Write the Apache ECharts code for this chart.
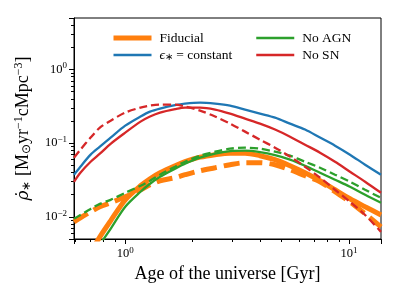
<!DOCTYPE html>
<html><head><meta charset="utf-8">
<script src="https://cdn.jsdelivr.net/npm/echarts@6/dist/echarts.min.js"></script>
<style>html,body{margin:0;padding:0;background:#fff}#c{width:399px;height:299px}</style>
</head><body><div id="c"></div>
<script>
// Age of the universe [Gyr]
const ages = [0.59, 0.63, 0.70, 0.77, 0.86, 1.0, 1.17, 1.29, 1.43, 1.67, 1.85, 2.16, 2.52, 2.94, 3.43, 4.0, 4.67, 5.45, 6.36, 7.42, 8.66, 10.1, 11.8, 13.9];
// SFRD [Msun / yr / cMpc^3]
const fiducial       = [0.0012, 0.0017, 0.00324, 0.00534, 0.00883, 0.0170, 0.0264, 0.0329, 0.0397, 0.0494, 0.056, 0.0645, 0.0698, 0.0731, 0.0731, 0.0676, 0.0597, 0.0494, 0.0397, 0.0309, 0.0233, 0.0176, 0.0137, 0.0106];
const fiducialDashed = [0.00855, 0.00969, 0.0117, 0.0137, 0.0155, 0.0187, 0.0233, 0.0272, 0.0309, 0.034, 0.0373, 0.0423, 0.0464, 0.051, 0.0543, 0.0543, 0.051, 0.0436, 0.0361, 0.030, 0.0219, 0.016, 0.011, 0.0073];
const constEff       = [0.0373, 0.0479, 0.0698, 0.0896, 0.119, 0.173, 0.230, 0.268, 0.295, 0.329, 0.345, 0.356, 0.345, 0.324, 0.286, 0.252, 0.222, 0.184, 0.153, 0.119, 0.0925, 0.0698, 0.051, 0.0373];
const noAGN          = [0.0009, 0.0013, 0.00244, 0.00416, 0.00687, 0.0137, 0.0219, 0.0281, 0.035, 0.045, 0.0526, 0.0635, 0.072, 0.0778, 0.079, 0.0755, 0.0687, 0.0597, 0.0494, 0.0397, 0.0319, 0.0256, 0.0199, 0.0155];
const noAGNDashed    = [0.0094, 0.0106, 0.0128, 0.015, 0.017, 0.0212, 0.0264, 0.0309, 0.0373, 0.0479, 0.056, 0.0676, 0.0766, 0.0842, 0.0868, 0.0842, 0.0766, 0.0676, 0.056, 0.0464, 0.0373, 0.030, 0.0233, 0.0181];
const noSN           = [0.0299, 0.0397, 0.056, 0.072, 0.098, 0.139, 0.196, 0.230, 0.260, 0.290, 0.304, 0.304, 0.286, 0.252, 0.215, 0.184, 0.153, 0.1225, 0.0954, 0.0743, 0.056, 0.041, 0.030, 0.0212];
const noSNDashed     = [0.0635, 0.0816, 0.119, 0.1625, 0.202, 0.260, 0.304, 0.324, 0.334, 0.334, 0.314, 0.277, 0.230, 0.184, 0.1434, 0.1116, 0.0868, 0.0656, 0.0479, 0.034, 0.0233, 0.016, 0.0106, 0.00625];
// tick label exponents (10^n)
const xTickExps = {'0': '0', '1': '1'};
const yTickExps = {'-2': '−2', '-1': '−1', '0': '0'};

const FONT = 'Liberation Serif';
const C = {orange: '#ff7f0e', blue: '#1f77b4', green: '#2ca02c', red: '#d62728'};
const pairs = arr => ages.map((a, i) => [a, arr[i]]);

function mk(name, data, color, width, dash, z) {
  return {
    name, type: 'line', data: pairs(data), symbol: 'none', smooth: 0.3,
    clip: true, z: z,
    lineStyle: {color, width, type: dash || 'solid', cap: 'butt'},
    itemStyle: {color}
  };
}
const NAME_CONST = 'eps_const';
const tickRich = {
  b: {fontFamily: FONT, fontSize: 12.5, color: '#000'},
  s: {fontFamily: FONT, fontSize: 9, color: '#000', padding: [0, 0, 7, 0]}
};
const fmt = exps => v => {
  const k = String(Math.round(Math.log10(v)));
  return exps[k] === undefined ? '' : '{b|10}{s|' + exps[k] + '}';
};
const axisCommon = {
  axisLine: {show: true, lineStyle: {color: '#000', width: 1}},
  axisTick: {show: true, inside: false, length: 5, lineStyle: {color: '#000'}},
  minorTick: {show: true, splitNumber: 9, length: 3, lineStyle: {color: '#000'}},
  splitLine: {show: false}, minorSplitLine: {show: false}
};
const legendRich = {
  t: {fontFamily: FONT, fontSize: 13.5, color: '#000'},
  e: {fontFamily: FONT, fontSize: 13.5, fontStyle: 'italic', color: '#000'},
  sub: {fontFamily: FONT, fontSize: 10, color: '#000', padding: [5, 0, 0, 0]}
};
const chart = echarts.init(document.getElementById('c'), null, {renderer: 'canvas'});
chart.setOption({
  animation: false,
  backgroundColor: '#fff',
  grid: {left: 74, right: 18, top: 18, bottom: 60, show: true, borderColor: '#000', borderWidth: 1, backgroundColor: 'transparent'},
  xAxis: Object.assign({
    type: 'log', logBase: 10, min: 0.59, max: 13.9,
    name: 'Age of the universe [Gyr]', nameLocation: 'middle', nameGap: 26,
    nameTextStyle: {fontFamily: FONT, fontSize: 18, color: '#000'},
    axisLabel: {margin: 7, showMinLabel: false, showMaxLabel: false, formatter: fmt(xTickExps), rich: tickRich}
  }, axisCommon),
  yAxis: Object.assign({
    type: 'log', logBase: 10, min: 0.005, max: 5,
    name: '{r|ρ̇}{sub|∗}{t| [M}{sub|⊙}{t|yr}{sup|−1}{t|cMpc}{sup|−3}{t|]}',
    nameLocation: 'middle', nameGap: 40, nameRotate: 90,
    nameTextStyle: {
      rich: {
        r: {fontFamily: 'DejaVu Serif', fontSize: 17, fontStyle: 'italic', color: '#000'},
        t: {fontFamily: FONT, fontSize: 18, color: '#000'},
        sub: {fontFamily: FONT, fontSize: 12, color: '#000', padding: [6, 0, 0, 0]},
        sup: {fontFamily: FONT, fontSize: 12, color: '#000', padding: [0, 0, 9, 0]}
      }
    },
    axisLabel: {margin: 7, showMinLabel: false, showMaxLabel: false, formatter: fmt(yTickExps), rich: tickRich}
  }, axisCommon),
  legend: [{
    left: 106, top: 26, orient: 'vertical', itemWidth: 38, itemHeight: 14, itemGap: 3,
    itemStyle: {opacity: 0},
    data: [{name: 'Fiducial', lineStyle: {width: 5, type: 'solid'}}, {name: NAME_CONST, lineStyle: {width: 2.5, type: 'solid'}}],
    formatter: n => n === NAME_CONST ? '{e|ϵ}{sub|∗}{t| = constant}' : '{t|' + n + '}',
    textStyle: {fontFamily: FONT, fontSize: 13.5, color: '#000', padding: [0, 0, 0, 3], rich: legendRich}
  }, {
    left: 250, top: 26, orient: 'vertical', itemWidth: 38, itemHeight: 14, itemGap: 3,
    itemStyle: {opacity: 0},
    data: [{name: 'No AGN', lineStyle: {width: 2.5, type: 'solid'}}, {name: 'No SN', lineStyle: {width: 2.5, type: 'solid'}}],
    formatter: n => '{t|' + n + '}',
    textStyle: {fontFamily: FONT, fontSize: 13.5, color: '#000', padding: [0, 0, 0, 3], rich: legendRich}
  }],
  series: [
    mk('Fiducial', fiducial, C.orange, 5, null, 2),
    mk('Fiducial', fiducialDashed, C.orange, 5, [16, 7], 2),
    mk(NAME_CONST, constEff, C.blue, 2.3, null, 3),
    mk('No AGN', noAGN, C.green, 2.3, null, 4),
    mk('No AGN', noAGNDashed, C.green, 2.3, [8, 4], 4),
    mk('No SN', noSN, C.red, 2.3, null, 5),
    mk('No SN', noSNDashed, C.red, 2.3, [8, 4], 5)
  ]
});
</script></body></html>
